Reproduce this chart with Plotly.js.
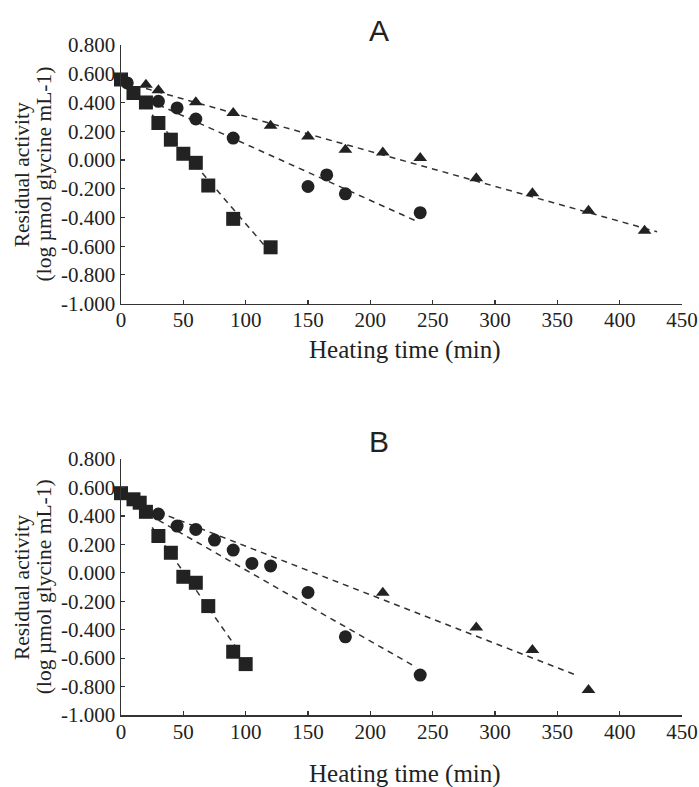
<!DOCTYPE html>
<html>
<head>
<meta charset="utf-8">
<script src="https://cdn.plot.ly/plotly-3.0.1.min.js"></script>
<style>html,body{margin:0;padding:0;background:#fff;}#chart{width:699px;height:787px;}</style>
</head>
<body>
<div id="chart"></div>
<script>
// ---- Panel A data ----
const aSquareX = [0, 10, 20, 30, 40, 50, 60, 70, 90, 120];
const aSquareY = [0.560, 0.466, 0.400, 0.257, 0.141, 0.043, -0.020, -0.178, -0.410, -0.608];
const aCircleX = [5, 30, 45, 60, 90, 150, 165, 180, 240];
const aCircleY = [0.536, 0.408, 0.362, 0.285, 0.152, -0.185, -0.104, -0.236, -0.367];
const aTriX = [20, 30, 60, 90, 120, 150, 180, 210, 240, 285, 330, 375, 420];
const aTriY = [0.524, 0.485, 0.401, 0.327, 0.238, 0.164, 0.071, 0.052, 0.013, -0.127, -0.231, -0.353, -0.492];
const aSquareFitX = [25, 117];
const aSquareFitY = [0.315, -0.615];
const aCircleFitX = [30, 238];
const aCircleFitY = [0.384, -0.430];
const aTriFitX = [20, 430];
const aTriFitY = [0.497, -0.500];

// ---- Panel B data ----
const bSquareX = [0, 10, 15, 20, 30, 40, 50, 60, 70, 90, 100];
const bSquareY = [0.560, 0.517, 0.493, 0.429, 0.259, 0.141, -0.028, -0.070, -0.234, -0.555, -0.642];
const bCircleX = [30, 45, 60, 75, 90, 105, 120, 150, 180, 240];
const bCircleY = [0.413, 0.329, 0.305, 0.230, 0.160, 0.066, 0.048, -0.138, -0.450, -0.719];
const bTriX = [210, 285, 330, 375];
const bTriY = [-0.140, -0.384, -0.543, -0.824];
const bSquareFitX = [25, 92];
const bSquareFitY = [0.320, -0.520];
const bCircleFitX = [30, 237];
const bCircleFitY = [0.370, -0.665];
const bTriFitX = [30, 367];
const bTriFitY = [0.427, -0.726];

// ---- Axis labels ----
const xTickVals = [0, 50, 100, 150, 200, 250, 300, 350, 400, 450];
const yTickVals = [0.8, 0.6, 0.4, 0.2, 0.0, -0.2, -0.4, -0.6, -0.8, -1.0];
const yTickText = ["0.800", "0.600", "0.400", "0.200", "0.000", "-0.200", "-0.400", "-0.600", "-0.800", "-1.000"];
const xTitle = "Heating time (min)";
const yTitle1 = "Residual activity";
const yTitle2 = "(log \u00b5mol glycine mL-1)";
const panelLabels = ["A", "B"];

const markColor = '#222222';
const lineColor = '#333333';
const serif = '"Liberation Serif", "Times New Roman", serif';
const sans = '"Liberation Sans", Arial, sans-serif';

function fit(x, y, ax) {
  return {x: x, y: y, xaxis: ax[0], yaxis: ax[1], mode: 'lines', type: 'scatter',
    line: {color: lineColor, width: 1.5, dash: '6px,5px'}, hoverinfo: 'skip', showlegend: false};
}
function pts(x, y, sym, size, ax) {
  return {x: x, y: y, xaxis: ax[0], yaxis: ax[1], mode: 'markers', type: 'scatter',
    marker: {symbol: sym, size: size, color: markColor, line: {width: 0}},
    cliponaxis: false, showlegend: false};
}
const A = ['x', 'y'], B = ['x2', 'y2'];
const data = [
  fit(aTriFitX, aTriFitY, A), fit(aCircleFitX, aCircleFitY, A), fit(aSquareFitX, aSquareFitY, A),
  pts(aTriX, aTriY, 'triangle-up', 12, A), pts(aCircleX, aCircleY, 'circle', 13, A), pts(aSquareX, aSquareY, 'square', 14, A),
  fit(bTriFitX, bTriFitY, B), fit(bCircleFitX, bCircleFitY, B), fit(bSquareFitX, bSquareFitY, B),
  pts(bTriX, bTriY, 'triangle-up', 12, B), pts(bCircleX, bCircleY, 'circle', 13, B), pts(bSquareX, bSquareY, 'square', 14, B)
];

function xax(anchor) {
  return {anchor: anchor, range: [0, 450], tickvals: xTickVals, ticktext: xTickVals.map(String),
    showgrid: false, zeroline: false, showline: true, linecolor: lineColor, linewidth: 1.5,
    ticks: 'inside', ticklen: 4, tickwidth: 1.2, tickcolor: lineColor, ticklabelstandoff: -3,
    tickfont: {family: serif, size: 21, color: markColor}, fixedrange: true};
}
function yax(anchor, domain) {
  return {anchor: anchor, domain: domain, range: [-1.0, 0.8], tickvals: yTickVals, ticktext: yTickText,
    showgrid: false, zeroline: false, showline: true, linecolor: lineColor, linewidth: 1.5,
    ticks: 'inside', ticklen: 4, tickwidth: 1.2, tickcolor: lineColor,
    tickfont: {family: serif, size: 21, color: markColor}, fixedrange: true};
}

const annotations = [];
const panels = [{lab: panelLabels[0], yTop: 1.022, xT: 0.545, yMid: 0.807}, {lab: panelLabels[1], yTop: 0.4075, xT: -0.088, yMid: 0.191}];
panels.forEach(p => {
  annotations.push({text: p.lab, xref: 'paper', yref: 'paper', x: 0.46, y: p.yTop, xanchor: 'center', yanchor: 'middle',
    showarrow: false, font: {family: sans, size: 30, color: markColor}});
  annotations.push({text: xTitle, xref: 'paper', yref: 'paper', x: 0.506, y: p.xT, xanchor: 'center', yanchor: 'middle',
    showarrow: false, font: {family: serif, size: 25, color: markColor}});
  annotations.push({text: yTitle1, xref: 'paper', yref: 'paper', x: -0.1765, y: p.yMid, xanchor: 'center', yanchor: 'middle',
    textangle: -90, showarrow: false, font: {family: serif, size: 21.5, color: markColor}});
  annotations.push({text: yTitle2, xref: 'paper', yref: 'paper', x: -0.137, y: p.yMid, xanchor: 'center', yanchor: 'middle',
    textangle: -90, showarrow: false, font: {family: serif, size: 21.5, color: markColor}});
});

const layout = {
  width: 699, height: 787,
  margin: {l: 121, r: 17, t: 45, b: 72},
  paper_bgcolor: '#ffffff', plot_bgcolor: '#ffffff',
  showlegend: false,
  xaxis: xax('y'), yaxis: yax('x', [0.614, 1]),
  xaxis2: xax('y2'), yaxis2: yax('x2', [0, 0.382]),
  annotations: annotations
};
Plotly.newPlot('chart', data, layout, {displayModeBar: false, staticPlot: true});
</script>
</body>
</html>
